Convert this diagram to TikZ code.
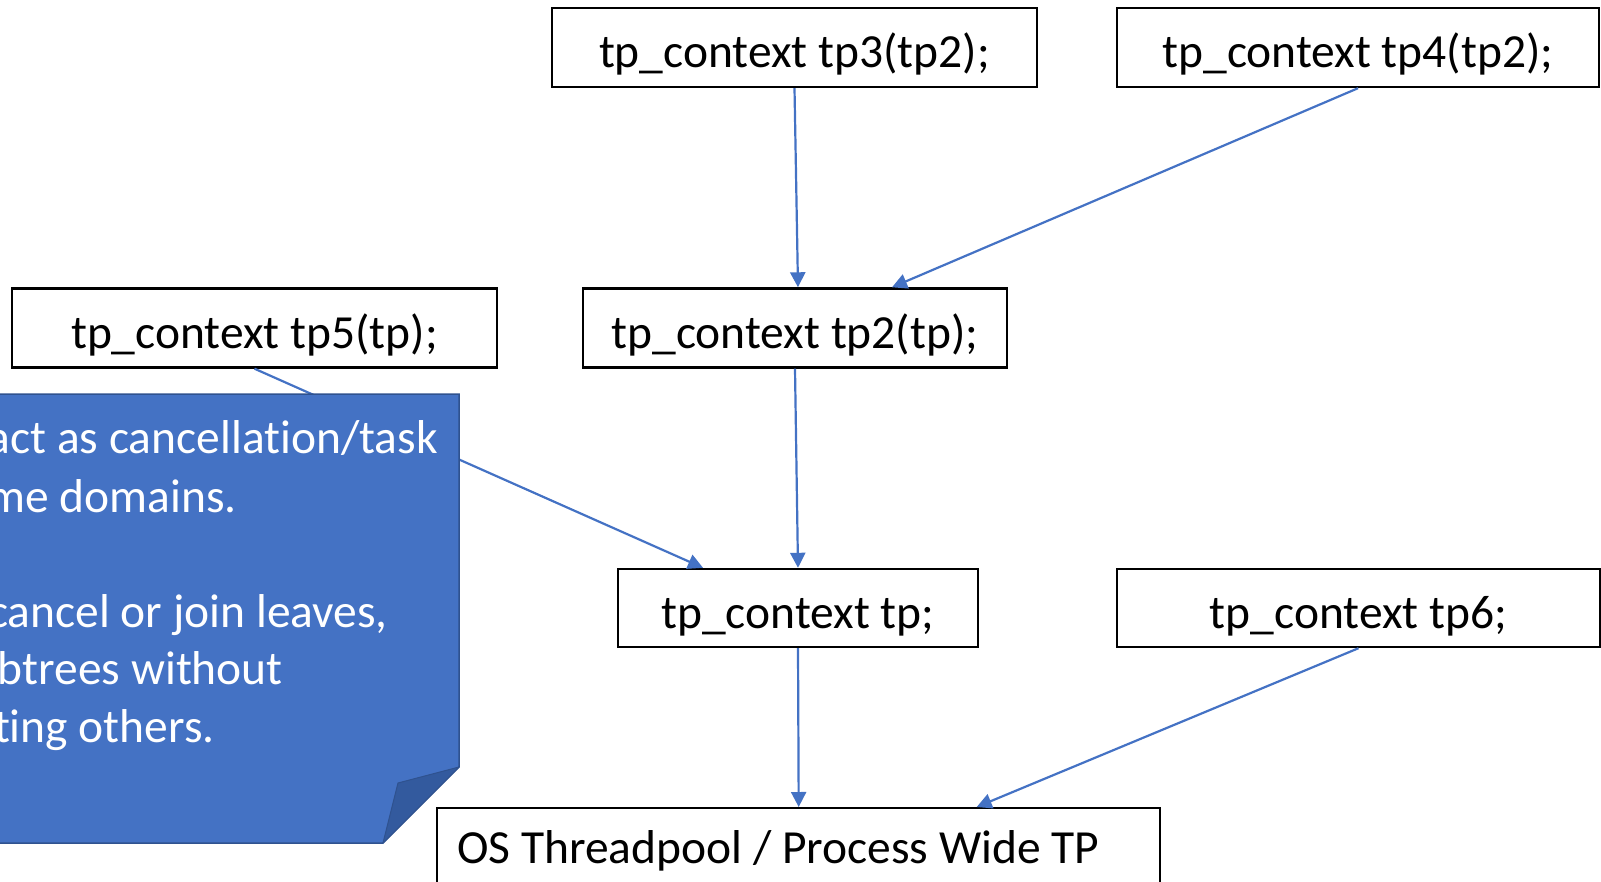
\documentclass[tikz,border=0pt]{standalone}
\usepackage{fontspec}
\setmainfont[Ligatures=NoCommon]{Carlito}
\usetikzlibrary{arrows.meta}
\definecolor{accent}{HTML}{4472C4}
\definecolor{noteedge}{HTML}{2F528F}
\definecolor{noteflap}{HTML}{335A9E}

\begin{document}
\begin{tikzpicture}[x=1pt,y=-1pt,
  ctx/.style={draw=black, line width=2.4pt, inner sep=0pt, minimum height=79pt,
    text height=50pt, text depth=10pt, font=\fontsize{47.5}{57}\selectfont},
  link/.style={draw=accent, line width=2.2pt, -{Triangle[length=15pt,width=15pt]}},
  notetext/.style={text=white, anchor=base east, inner sep=0pt,
    font=\fontsize{47.5}{57}\selectfont}]
\useasboundingbox (0,0) rectangle (1601,881);
\clip (0,0) rectangle (1601,881);

% context boxes
\node[ctx, minimum width=485pt] (tp3) at (794.5,47.5) {tp\_context tp3(tp2);};
\node[ctx, minimum width=482pt] (tp4) at (1358,47.5) {tp\_context tp4(tp2);};
\node[ctx, minimum width=485pt] (tp5) at (254.5,328) {tp\_context tp5(tp);};
\node[ctx, minimum width=424pt] (tp2) at (795,328) {tp\_context tp2(tp);};
\node[ctx, minimum width=360pt, minimum height=78pt] (tp) at (798,608) {tp\_context tp;};
\node[ctx, minimum width=483pt, minimum height=78pt] (tp6) at (1358.5,608) {tp\_context tp6;};

% process-wide pool (left-aligned label, box runs past the lower edge)
\node[draw=black, line width=2.4pt, anchor=north west, inner xsep=20pt, inner ysep=20pt,
  text height=35pt, text depth=40pt,
  font=\fontsize{47.5}{57}\selectfont] (os) at (436,807)
  {\makebox[683pt][l]{OS Threadpool / Process Wide TP}};

% parent links
\draw[link] (tp3.south) -- ([xshift=3pt]tp2.north);
\draw[link] (tp4.south) -- ([xshift=97pt]tp2.north);
\draw[link] (tp2.south) -- (tp.north);
\draw[link] (tp5.south) -- ([xshift=-95pt]tp.north);
\draw[link] (tp.south) -- (os.north);
\draw[link] (tp6.south) -- ([xshift=178pt]os.north);

% sticky note with folded corner
\filldraw[fill=accent, draw=noteedge, line width=1.5pt]
  (-10,394) -- (459,394) -- (459,767) -- (383,843) -- (-10,843) -- cycle;
\filldraw[fill=noteflap, draw=noteedge, line width=1pt, line join=round]
  (459,767) -- (398,783) -- (383,843) -- cycle;

\node[notetext] (n1) at (438,453) {act as cancellat\kern0pt ion/task};
\node[notetext] (n2) at (237,512) {me domains.};
\node[notetext] (n3) at (388,627) {cancel or join leaves,};
\node[notetext] (n4) at (283,684) {btrees without};
\node[notetext] (n5) at (215,742) {ting others.};
\end{tikzpicture}
\end{document}
